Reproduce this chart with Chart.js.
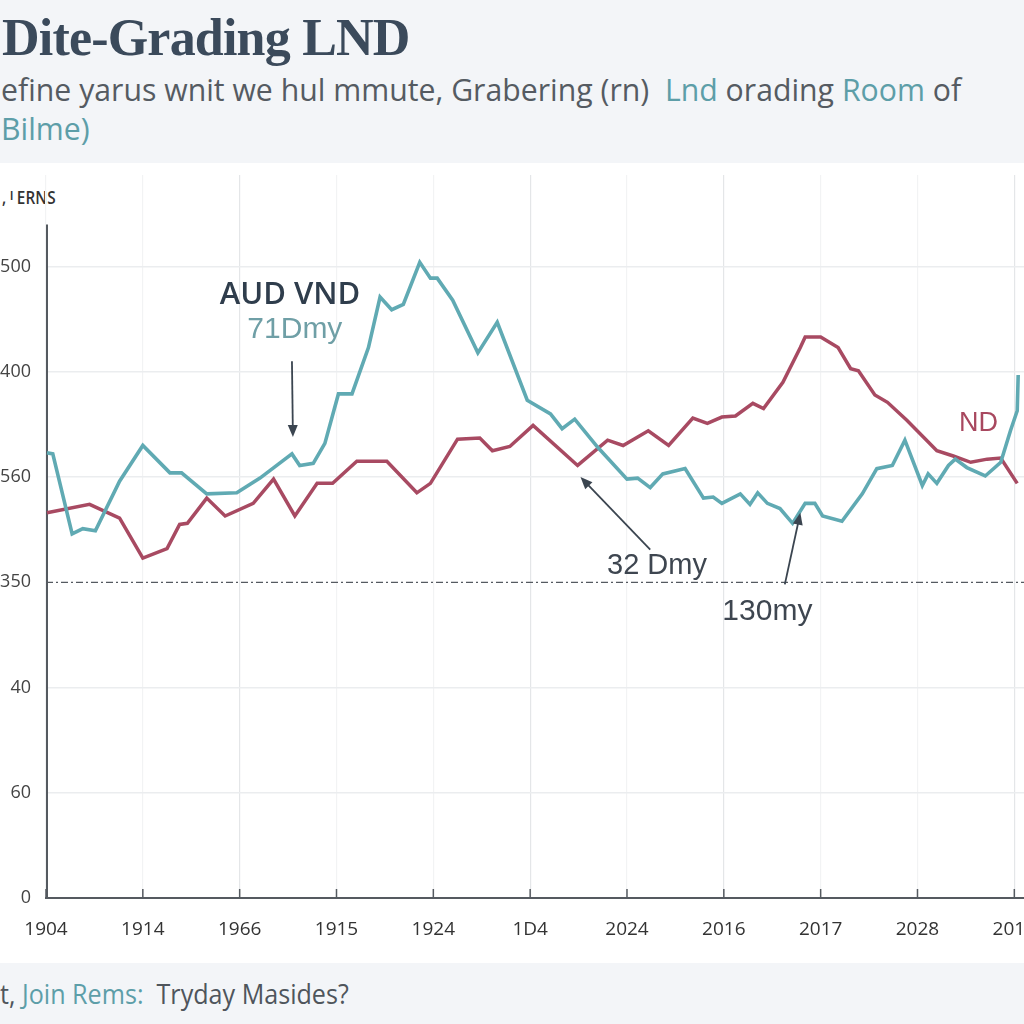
<!DOCTYPE html>
<html>
<head>
<meta charset="utf-8">
<script src="https://cdn.jsdelivr.net/npm/chart.js@4"></script>
<style>
  html, body { margin: 0; padding: 0; }
  body { width: 1024px; height: 1024px; position: relative; overflow: hidden; background: #f3f5f8; font-family: 'Open Sans', 'Liberation Sans', sans-serif; }
  #panel { position: absolute; left: 0; top: 163px; width: 1024px; height: 800px; background: #ffffff; }
  #title { position: absolute; left: 2px; top: 8px; font-family: 'Liberation Serif', 'DejaVu Serif', serif; font-weight: bold; font-size: 52px; color: #3b4a5b; letter-spacing: -0.8px; white-space: nowrap; }
  #subtitle { position: absolute; left: 1px; top: 70px; font-size: 31px; line-height: 39px; color: #555b62; white-space: nowrap; transform: scaleX(0.975); transform-origin: left top; }
  .teal { color: #5d9ea8; }
  #ylab { position: absolute; left: 2px; top: 185px; font-size: 18px; font-weight: 600; color: #333; white-space: nowrap; transform: scaleX(0.85); transform-origin: left top; }
  #footer { position: absolute; left: 0; top: 975px; font-size: 27px; color: #4f555c; white-space: nowrap; transform: scaleX(0.93); transform-origin: left top; }
  #c { position: absolute; left: 0; top: 0; }
</style>
</head>
<body>
<div id="panel"></div>
<div id="title">Dite-Grading LND</div>
<div id="subtitle">efine yarus wnit we hul mmute, Grabering (rn)&nbsp; <span class="teal">Lnd</span> orading <span class="teal">Room</span> of<br><span class="teal">Bilme)</span></div>
<div id="ylab">, ᴵ ERNS</div>
<div id="footer">t, <span class="teal">Join Rems:</span>&nbsp; Tryday Masides?</div>
<canvas id="c" width="1024" height="1024"></canvas>
<script>
// Tick labels as printed on the chart
const xTickLabels = ['1904', '1914', '1966', '1915', '1924', '1D4', '2024', '2016', '2017', '2028', '2018'];
const yTickLabels = ['0', '60', '40', '350', '560', '400', '500'];

// AUD VND (teal) series
const tealX = [0.01, 0.07, 0.27, 0.38, 0.51, 0.76, 1.00, 1.28, 1.40, 1.66, 1.97, 2.21, 2.54, 2.62, 2.76, 2.88,
  3.02, 3.16, 3.33, 3.45, 3.57, 3.69, 3.86, 3.97, 4.04, 4.20, 4.46, 4.66, 4.97, 5.21, 5.33, 5.46, 5.70,
  6.00, 6.11, 6.24, 6.37, 6.60, 6.79, 6.89, 6.98, 7.17, 7.27, 7.35, 7.45, 7.58, 7.71, 7.84, 7.94, 8.02,
  8.22, 8.43, 8.58, 8.74, 8.87, 9.05, 9.11, 9.20, 9.32, 9.39, 9.51, 9.70, 9.86, 9.96, 10.03, 10.04];
const tealY = [4.23, 4.22, 3.46, 3.51, 3.49, 3.96, 4.30, 4.04, 4.04, 3.84, 3.85, 3.99, 4.22, 4.11, 4.13, 4.32,
  4.79, 4.79, 5.23, 5.71, 5.59, 5.64, 6.04, 5.89, 5.89, 5.68, 5.18, 5.47, 4.73, 4.60, 4.46, 4.55, 4.28,
  3.98, 3.99, 3.90, 4.03, 4.08, 3.80, 3.81, 3.75, 3.84, 3.74, 3.85, 3.75, 3.70, 3.56, 3.75, 3.75, 3.63,
  3.58, 3.84, 4.08, 4.11, 4.35, 3.92, 4.03, 3.94, 4.11, 4.17, 4.09, 4.01, 4.14, 4.44, 4.63, 4.97];

// ND (maroon) series
const maroonX = [0.01, 0.45, 0.76, 1.00, 1.25, 1.38, 1.46, 1.66, 1.85, 2.14, 2.35, 2.57, 2.80, 2.96, 3.21, 3.52,
  3.83, 3.97, 4.25, 4.48, 4.61, 4.79, 5.03, 5.49, 5.80, 5.96, 6.22, 6.43, 6.68, 6.83, 6.98, 7.12, 7.30,
  7.41, 7.61, 7.79, 7.84, 8.00, 8.18, 8.31, 8.39, 8.56, 8.69, 8.89, 9.20, 9.37, 9.55, 9.72, 9.86, 10.03];
const maroonY = [3.66, 3.74, 3.61, 3.23, 3.32, 3.55, 3.56, 3.80, 3.63, 3.75, 3.98, 3.63, 3.94, 3.94, 4.15, 4.15,
  3.85, 3.94, 4.36, 4.37, 4.25, 4.29, 4.49, 4.11, 4.35, 4.30, 4.44, 4.30, 4.56, 4.51, 4.57, 4.58, 4.70,
  4.65, 4.90, 5.23, 5.33, 5.33, 5.23, 5.03, 5.01, 4.78, 4.71, 4.54, 4.25, 4.20, 4.14, 4.17, 4.18, 3.94];

const refLineValue = 3;

function toPoints(xs, ys) {
    return xs.map((x, i) => ({ x: x, y: ys[i] }));
}

// Annotations, labels and the dash-dot reference line
const annotationPlugin = {
    id: 'annotations',
    beforeDatasetsDraw(chart) {
        const ctx = chart.ctx;
        const xs = chart.scales.x;
        const ys = chart.scales.y;
        const area = chart.chartArea;

        // y axis line (starts a bit below top of panel)
        ctx.save();
        ctx.strokeStyle = '#555a60';
        ctx.lineWidth = 2;
        ctx.beginPath();
        ctx.moveTo(xs.left + 1, ys.getPixelForValue(6.4));
        ctx.lineTo(xs.left + 1, ys.bottom);
        ctx.stroke();

        // dash-dot reference line
        const ry = ys.getPixelForValue(refLineValue);
        ctx.strokeStyle = '#555a60';
        ctx.lineWidth = 1.3;
        ctx.setLineDash([7, 3, 2, 3]);
        ctx.beginPath();
        ctx.moveTo(area.left, ry);
        ctx.lineTo(area.right, ry);
        ctx.stroke();
        ctx.setLineDash([]);

        // small x tick marks pointing up from the axis
        ctx.strokeStyle = '#555a60';
        ctx.lineWidth = 1.5;
        xs.ticks.forEach(t => {
            const px = xs.getPixelForValue(t.value);
            ctx.beginPath();
            ctx.moveTo(px, ys.bottom);
            ctx.lineTo(px, ys.bottom - 9);
            ctx.stroke();
        });
        ctx.restore();
    },
    afterDatasetsDraw(chart) {
        const ctx = chart.ctx;
        const xs = chart.scales.x;
        const ys = chart.scales.y;
        const px = v => xs.getPixelForValue(v);
        const py = v => ys.getPixelForValue(v);

        function text(str, x, y, font, color) {
            ctx.font = font;
            ctx.fillStyle = color;
            ctx.textAlign = 'center';
            ctx.textBaseline = 'middle';
            ctx.fillText(str, px(x), py(y));
        }

        function arrow(x1, y1, x2, y2) {
            const ax = px(x1), ay = py(y1), bx = px(x2), by = py(y2);
            const ang = Math.atan2(by - ay, bx - ax);
            ctx.strokeStyle = '#3b4550';
            ctx.fillStyle = '#3b4550';
            ctx.lineWidth = 1.8;
            ctx.beginPath();
            ctx.moveTo(ax, ay);
            ctx.lineTo(bx - 6 * Math.cos(ang), by - 6 * Math.sin(ang));
            ctx.stroke();
            ctx.beginPath();
            ctx.moveTo(bx, by);
            ctx.lineTo(bx - 12 * Math.cos(ang) + 5 * Math.sin(ang), by - 12 * Math.sin(ang) - 5 * Math.cos(ang));
            ctx.lineTo(bx - 12 * Math.cos(ang) - 5 * Math.sin(ang), by - 12 * Math.sin(ang) + 5 * Math.cos(ang));
            ctx.closePath();
            ctx.fill();
        }

        ctx.save();
        text('AUD VND', 2.52, 5.73, '600 31px "Open Sans", "Liberation Sans", sans-serif', '#2f3d4c');
        text('71Dmy', 2.57, 5.40, '30px "Liberation Sans", "Open Sans", sans-serif', '#6f9fa6');
        arrow(2.54, 5.10, 2.55, 4.38);
        text('32 Dmy', 6.31, 3.15, '29px "Liberation Sans", "Open Sans", sans-serif', '#3e4650');
        arrow(6.24, 3.31, 5.52, 4.00);
        text('130my', 7.45, 2.72, '30px "Liberation Sans", "Open Sans", sans-serif', '#3e4650');
        arrow(7.63, 2.98, 7.79, 3.66);
        text('ND', 9.63, 4.51, '27px "Liberation Sans", "Open Sans", sans-serif', '#a8485f');
        ctx.restore();
    }
};

const strongGrid = [2, 5, 7, 10];

const chart = new Chart(document.getElementById('c').getContext('2d'), {
    type: 'line',
    data: {
        datasets: [
            {
                label: 'AUD VND',
                data: toPoints(tealX, tealY),
                borderColor: '#60aab3',
                borderWidth: 3.6,
                pointRadius: 0,
                tension: 0,
                fill: false
            },
            {
                label: 'ND',
                data: toPoints(maroonX, maroonY),
                borderColor: '#a84a62',
                borderWidth: 3.5,
                pointRadius: 0,
                tension: 0,
                fill: false
            }
        ]
    },
    options: {
        responsive: false,
        animation: false,
        layout: { padding: { top: 175, right: 0, bottom: 86, left: 0 } },
        plugins: {
            legend: { display: false },
            tooltip: { enabled: false }
        },
        scales: {
            x: {
                type: 'linear',
                min: 0,
                max: 10.1,
                afterFit: s => { s.height = 40; s.paddingLeft = 0; s.paddingRight = 0; },
                border: { display: true, color: '#555a60', width: 2 },
                grid: {
                    drawTicks: false,
                    color: ctx => strongGrid.includes(ctx.tick && ctx.tick.value) ? '#e4e6e8' : '#f2f3f4',
                    lineWidth: 1.2
                },
                ticks: {
                    stepSize: 1,
                    includeBounds: false,
                    autoSkip: false,
                    maxRotation: 0,
                    padding: 20,
                    color: '#333',
                    font: { family: '"Open Sans", "Liberation Sans", sans-serif', size: 19 },
                    callback: v => (Number.isInteger(v) && xTickLabels[v] !== undefined) ? xTickLabels[v] : ''
                }
            },
            y: {
                type: 'linear',
                min: 0,
                max: 6.87,
                afterFit: s => { s.width = 46; },
                border: { display: false },
                grid: {
                    drawTicks: false,
                    color: ctx => {
                        const v = ctx.tick && ctx.tick.value;
                        if (v === 0 || v === refLineValue || !Number.isInteger(v)) return 'rgba(0,0,0,0)';
                        return '#ebedef';
                    },
                    lineWidth: 1.5
                },
                ticks: {
                    stepSize: 1,
                    includeBounds: false,
                    padding: 15,
                    color: '#444',
                    font: { family: '"Open Sans", "Liberation Sans", sans-serif', size: 18 },
                    callback: v => (Number.isInteger(v) && yTickLabels[v] !== undefined) ? yTickLabels[v] : ''
                }
            }
        }
    },
    plugins: [annotationPlugin]
});
</script>
</body>
</html>
